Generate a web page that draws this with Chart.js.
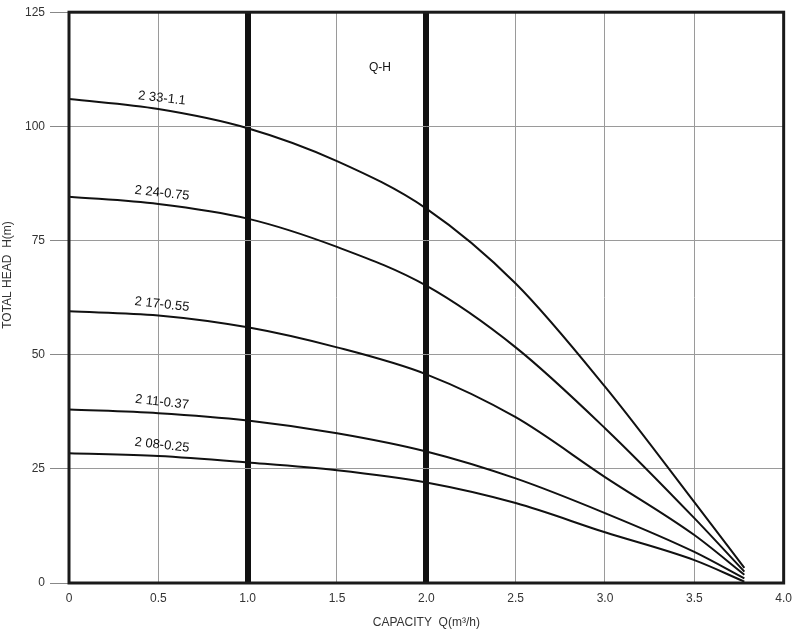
<!DOCTYPE html>
<html>
<head>
<meta charset="utf-8">
<script src="https://cdn.jsdelivr.net/npm/chart.js@4"></script>
<style>
  body { margin: 0; background: #fff; }
  #wrap { width: 800px; height: 632px; }
</style>
</head>
<body>
<div id="wrap"><canvas id="qh"></canvas></div>
<script>
// 流量 Q (m3/h)
const capacity = [0, 0.5, 1.0, 1.5, 2.0, 2.5, 3.0, 3.5, 3.78];
// 揚程 H (m) — 各ポンプの曲線
const head33 = [106, 103.8, 99.6, 92.4, 82, 65.6, 43, 17.7, 3.3];
const head24 = [84.6, 83, 79.8, 73.6, 65.1, 51.6, 33.9, 14.2, 2.5];
const head17 = [59.5, 58.6, 56, 51.6, 45.7, 36.3, 23.2, 10.5, 1.8];
const head11 = [38, 37.2, 35.6, 32.8, 28.8, 22.9, 15.3, 6.8, 1.0];
const head08 = [28.4, 27.8, 26.4, 24.7, 22, 17.5, 11.1, 5.0, 0.3];
const curveNames = ['2 33-1.1', '2 24-0.75', '2 17-0.55', '2 11-0.37', '2 08-0.25'];
const curves = [head33, head24, head17, head11, head08];
const xTicks = [0, 0.5, 1.0, 1.5, 2.0, 2.5, 3.0, 3.5, 4.0];
const yTicks = [0, 25, 50, 75, 100, 125];

const FONT = '"Liberation Sans", Arial, sans-serif';

// 枠線と曲線ラベル
const framePlugin = {
    id: 'frame',
    afterDatasetsDraw(chart) {
        const { ctx, chartArea: a, scales } = chart;
        ctx.save();
        ctx.strokeStyle = '#1a1a1a';
        ctx.lineWidth = 3;
        ctx.strokeRect(a.left, a.top, a.right - a.left, a.bottom - a.top);

        ctx.fillStyle = '#111';
        ctx.font = '13px ' + FONT;
        ctx.textAlign = 'center';
        ctx.textBaseline = 'middle';
        curves.forEach((c, i) => {
            const x = scales.x.getPixelForValue(0.52);
            const y = scales.y.getPixelForValue(c[0] + (c[1] - c[0]) * 1.04) - 11;
            ctx.save();
            ctx.translate(x, y);
            ctx.rotate(0.11);
            ctx.fillText(curveNames[i], 0, 0);
            ctx.restore();
        });

        ctx.font = '12px ' + FONT;
        ctx.fillText('Q-H', scales.x.getPixelForValue(1.74), scales.y.getPixelForValue(112.8));

        // 縦軸タイトル（原図では少し上寄り）
        ctx.fillStyle = '#333';
        ctx.translate(8, 275);
        ctx.rotate(-Math.PI / 2);
        ctx.fillText('TOTAL HEAD  H(m)', 0, 0);
        ctx.restore();
    }
};

const ctx = document.getElementById('qh').getContext('2d');
new Chart(ctx, {
    type: 'line',
    data: {
        datasets: curves.map((c, i) => ({
            label: curveNames[i],
            data: capacity.map((q, k) => ({ x: q, y: c[k] })),
            borderColor: '#111',
            borderWidth: 2,
            pointRadius: 0,
            cubicInterpolationMode: 'monotone',
            fill: false
        }))
    },
    options: {
        responsive: true,
        maintainAspectRatio: false,
        animation: false,
        layout: { padding: { top: 11, right: 16, left: 0, bottom: 0 } },
        plugins: {
            legend: { display: false },
            tooltip: { enabled: false }
        },
        scales: {
            x: {
                type: 'linear',
                min: 0,
                max: 4,
                afterBuildTicks: s => { s.ticks = xTicks.map(v => ({ value: v })); },
                afterFit: s => { s.height = 49; },
                grid: {
                    color: ctx => (ctx.tick && (ctx.tick.value === 1 || ctx.tick.value === 2)) ? '#111' : '#9a9a9a',
                    lineWidth: ctx => (ctx.tick && (ctx.tick.value === 1 || ctx.tick.value === 2)) ? 6 : 1,
                    drawTicks: false
                },
                border: { display: false },
                ticks: {
                    padding: 8,
                    color: '#333',
                    font: { family: FONT, size: 12 },
                    callback: v => v === 0 ? '0' : v.toFixed(1)
                },
                title: {
                    display: true,
                    text: 'CAPACITY  Q(m³/h)',
                    color: '#333',
                    font: { family: FONT, size: 12 },
                    padding: { top: 4, bottom: 2 }
                }
            },
            y: {
                min: 0,
                max: 125,
                afterBuildTicks: s => { s.ticks = yTicks.map(v => ({ value: v })); },
                afterFit: s => { s.width = 69; },
                grid: {
                    color: '#9a9a9a',
                    lineWidth: 1,
                    tickLength: 19,
                    tickColor: '#888'
                },
                border: { display: false },
                ticks: {
                    padding: 5,
                    color: '#333',
                    font: { family: FONT, size: 12 }
                },
                title: { display: false }
            }
        }
    },
    plugins: [framePlugin]
});
</script>
</body>
</html>
